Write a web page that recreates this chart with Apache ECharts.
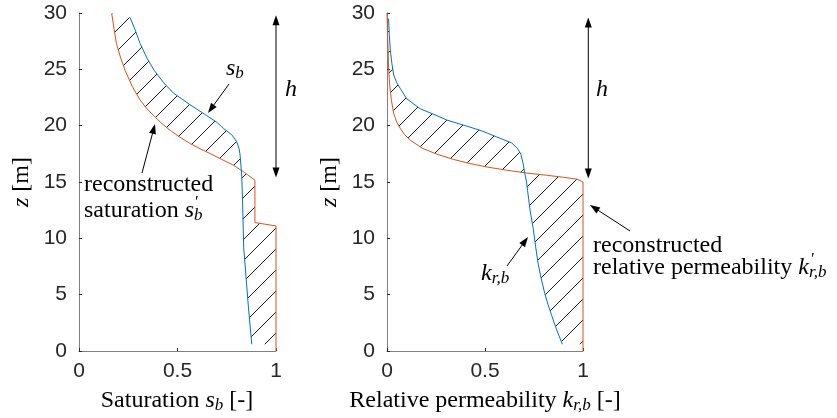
<!DOCTYPE html>
<html><head><meta charset="utf-8">
<script src="https://cdn.jsdelivr.net/npm/echarts@6/dist/echarts.min.js"></script>
<style>html,body{margin:0;padding:0;background:#fff}#c{width:837px;height:418px}</style>
</head><body><div id="c"></div>
<script>
// ---- data ----
const zTicks = [0, 5, 10, 15, 20, 25, 30];
const xTicks = [0, 0.5, 1];
// saturation s_b (blue), [s, z]
const satBlue = [[0.259,29.6],[0.285,28.5],[0.31,27.3],[0.345,26.0],[0.382,24.9],[0.43,23.8],[0.479,22.9],[0.56,21.9],[0.648,20.9],[0.70,20.3],[0.733,19.75],[0.775,19.2],[0.80,18.6],[0.812,18.0],[0.817,17.5],[0.822,16.5],[0.826,15.5],[0.83,13.5],[0.836,9.2],[0.86,3.9],[0.877,0.6]];
// reconstructed saturation s_b' (orange)
const satOrange = [[0.166,29.96],[0.178,28.6],[0.19,27.3],[0.21,26.1],[0.234,24.9],[0.27,23.5],[0.31,22.27],[0.345,21.5],[0.377,20.93],[0.42,20.2],[0.462,19.6],[0.51,19.0],[0.563,18.42],[0.615,17.95],[0.665,17.53],[0.725,17.0],[0.784,16.49],[0.84,15.85],[0.893,15.16],[0.893,11.4],[1.0,11.1],[1.0,0]];
// relative permeability k_r,b (blue)
const permBlue = [[0.008,29.5],[0.012,28],[0.017,26.7],[0.025,25.5],[0.034,24.5],[0.05,23.8],[0.068,23.3],[0.10,22.4],[0.169,21.5],[0.24,21.0],[0.305,20.5],[0.40,20.0],[0.483,19.54],[0.56,19.0],[0.636,18.47],[0.665,18.0],[0.683,17.47],[0.695,16.6],[0.703,15.75],[0.712,15.0],[0.717,14.27],[0.73,12.5],[0.746,10.87],[0.758,9.3],[0.771,7.76],[0.787,6.4],[0.805,5.1],[0.822,4.1],[0.84,3.17],[0.865,1.9],[0.895,0.6]];
// reconstructed relative permeability k_r,b' (orange)
const permOrange = [[0,30],[0.003,28],[0.006,26.5],[0.008,25.2],[0.013,23.75],[0.022,22.3],[0.034,21.1],[0.05,20.3],[0.068,19.75],[0.09,19.2],[0.12,18.7],[0.18,18.0],[0.254,17.47],[0.34,17.0],[0.424,16.64],[0.51,16.33],[0.61,16.05],[0.71,15.8],[0.814,15.6],[0.9,15.42],[0.97,15.25],[1.0,15.0],[1.0,0]];
// height arrows h: [x, zTop, zBottom]
const hArrowLeft = [1.0, 29.8, 15.4];
const hArrowRight = [1.027, 29.6, 15.3];

// ---- helpers ----
const BLUE = '#0072BD', ORANGE = '#D95319';
const SERIF = 'Liberation Serif';
const SANS = 'Liberation Sans';

function makeHatch() {
  const s = 21, c = document.createElement('canvas');
  c.width = s; c.height = s;
  const g = c.getContext('2d');
  g.strokeStyle = '#000'; g.lineWidth = 0.9;
  const seg = (a, b, cc, d) => { g.beginPath(); g.moveTo(a, b); g.lineTo(cc, d); g.stroke(); };
  seg(-2, s + 2, s + 2, -2);
  seg(-2, 2, 2, -2);
  seg(s - 2, s + 2, s + 2, s - 2);
  return c;
}
const hatch = makeHatch();

function hatchPolygon(blue, orange) {
  const zb = blue[blue.length - 1][1];
  const rev = orange.filter(p => p[1] > zb).reverse();
  return blue.concat([[1.0, zb]], rev);
}

function axisPair(gi) {
  return {
    x: {
      type: 'value', gridIndex: gi, min: 0, max: 1, interval: 0.5,
      axisLine: { show: true, lineStyle: { color: '#808080', width: 1 } },
      axisTick: { show: true, inside: true, length: 3, lineStyle: { color: '#262626' } },
      axisLabel: { fontFamily: SANS, fontSize: 21, color: '#262626', margin: 10 },
      splitLine: { show: false }
    },
    y: {
      type: 'value', gridIndex: gi, min: 0, max: 30, interval: 5,
      axisLine: { show: true, lineStyle: { color: '#808080', width: 1 } },
      axisTick: { show: true, inside: true, length: 3, lineStyle: { color: '#262626' } },
      axisLabel: { fontFamily: SANS, fontSize: 21, color: '#262626', margin: 12 },
      splitLine: { show: false }
    }
  };
}
const a0 = axisPair(0), a1 = axisPair(1);

function hatchSeries(gi, poly) {
  return {
    type: 'custom', xAxisIndex: gi, yAxisIndex: gi, data: [[0, 0]], clip: false, silent: true, z: 1,
    renderItem: (params, api) => ({
      type: 'polygon',
      shape: { points: poly.map(p => api.coord(p)) },
      style: { fill: { image: hatch, repeat: 'repeat' }, stroke: null }
    })
  };
}
function lineSeries(gi, data, color) {
  return {
    type: 'line', xAxisIndex: gi, yAxisIndex: gi, data: data, showSymbol: false, symbol: 'none',
    clip: false, silent: true, z: 3, animation: false,
    lineStyle: { color: color, width: 1 }
  };
}

const chart = echarts.init(document.getElementById('c'), null, { renderer: 'canvas' });
chart.setOption({
  animation: false,
  backgroundColor: '#fff',
  grid: [
    { left: 79, top: 13, width: 197, height: 338 },
    { left: 387, top: 13, width: 196, height: 338 }
  ],
  xAxis: [a0.x, a1.x],
  yAxis: [a0.y, a1.y],
  series: [
    hatchSeries(0, hatchPolygon(satBlue, satOrange)),
    hatchSeries(1, hatchPolygon(permBlue, permOrange)),
    lineSeries(0, satOrange, ORANGE),
    lineSeries(0, satBlue, BLUE),
    lineSeries(1, permOrange, ORANGE),
    lineSeries(1, permBlue, BLUE)
  ]
});

// ---- annotations ----
const mctx = document.createElement('canvas').getContext('2d');
function fontStr(p) { return (p.i ? 'italic ' : '') + p.s + 'px "' + SERIF + '"'; }
function tw(p) { mctx.font = fontStr(p); return mctx.measureText(p.t).width; }
function textRun(x, y, pieces, align) {
  let total = 0;
  pieces.forEach(p => { if (!p.na) total += tw(p) + (p.dx || 0); });
  let cx = align === 'center' ? x - total / 2 : x;
  const out = [];
  pieces.forEach(p => {
    const st = { text: p.t, fontFamily: SERIF, fontSize: p.s, fill: '#000', align: 'left', verticalAlign: 'middle' };
    if (p.i) st.fontStyle = 'italic';
    out.push({ type: 'text', x: cx + (p.dx || 0), y: y + (p.dy || 0), silent: true, z: 10, style: st });
    if (!p.na) cx += tw(p) + (p.dx || 0);
  });
  return out;
}
function arrow(x1, y1, x2, y2, both) {
  const L = 10, W = 3.5;
  const d = Math.hypot(x2 - x1, y2 - y1), ux = (x2 - x1) / d, uy = (y2 - y1) / d;
  const head = (bx, by, vx, vy) => ({ type: 'polygon', silent: true, z: 10,
    shape: { points: [[bx, by], [bx - vx * L - vy * W, by - vy * L + vx * W], [bx - vx * L + vy * W, by - vy * L - vx * W]] },
    style: { fill: '#000' } });
  const sx = both ? x1 + ux * (L - 1) : x1, sy = both ? y1 + uy * (L - 1) : y1;
  const els = [{ type: 'line', silent: true, z: 10,
    shape: { x1: sx, y1: sy, x2: x2 - ux * (L - 1), y2: y2 - uy * (L - 1) },
    style: { stroke: '#000', lineWidth: 1 } }, head(x2, y2, ux, uy)];
  if (both) els.push(head(x1, y1, -ux, -uy));
  return els;
}

const N = 24, S = 17;
let g = [];
// h arrows
const pL1 = chart.convertToPixel({ gridIndex: 0 }, [hArrowLeft[0], hArrowLeft[1]]);
const pL2 = chart.convertToPixel({ gridIndex: 0 }, [hArrowLeft[0], hArrowLeft[2]]);
const pR1 = chart.convertToPixel({ gridIndex: 1 }, [hArrowRight[0], hArrowRight[1]]);
const pR2 = chart.convertToPixel({ gridIndex: 1 }, [hArrowRight[0], hArrowRight[2]]);
g = g.concat(arrow(pL1[0], pL1[1], pL2[0], pL2[1], true));
g = g.concat(arrow(pR1[0], pR1[1], pR2[0], pR2[1], true));
g = g.concat(textRun(285, 90, [{ t: 'h', s: N, i: true }]));
g = g.concat(textRun(596, 90, [{ t: 'h', s: N, i: true }]));

// s_b label + arrow
g = g.concat(textRun(226, 69, [{ t: 's', s: N, i: true }, { t: 'b', s: S, i: true, dy: 5 }]));
g = g.concat(arrow(229, 84, 208, 113));
// reconstructed saturation
g = g.concat(textRun(84, 185, [{ t: 'reconstructed', s: N }]));
g = g.concat(textRun(84, 211, [{ t: 'saturation ', s: N }, { t: 's', s: N, i: true },
  { t: '\u2032', s: S, dy: -8, dx: 1, na: true }, { t: 'b', s: S, i: true, dy: 5 }]));
g = g.concat(arrow(142, 173, 155, 124));

// k_r,b label + arrow
g = g.concat(textRun(481, 274, [{ t: 'k', s: N, i: true }, { t: 'r,b', s: S, i: true, dy: 5 }]));
g = g.concat(arrow(507, 266, 528, 237));
// reconstructed relative permeability
g = g.concat(textRun(593, 246, [{ t: 'reconstructed', s: N }]));
g = g.concat(textRun(593, 268, [{ t: 'relative permeability ', s: N }, { t: 'k', s: N, i: true },
  { t: '\u2032', s: S, dy: -8, dx: 2, na: true }, { t: 'r,b', s: S, i: true, dy: 5 }]));
g = g.concat(arrow(630, 231, 590, 205));

// axis names
g = g.concat(textRun(177, 401, [{ t: 'Saturation ', s: N }, { t: 's', s: N, i: true },
  { t: 'b', s: S, i: true, dy: 5 }, { t: ' [-]', s: N }], 'center'));
g = g.concat(textRun(485, 401, [{ t: 'Relative permeability ', s: N }, { t: 'k', s: N, i: true },
  { t: 'r,b', s: S, i: true, dy: 5 }, { t: ' [-]', s: N }], 'center'));
[22, 330].forEach(x => {
  g.push({ type: 'text', x: x, y: 182, rotation: Math.PI / 2, silent: true, z: 10,
    style: { text: '{i|z} [m]', fontFamily: SERIF, fontSize: N, fill: '#000', align: 'center', verticalAlign: 'middle',
      rich: { i: { fontStyle: 'italic', fontFamily: SERIF, fontSize: N } } } });
});

chart.setOption({ graphic: { elements: g } });
</script>
</body></html>
